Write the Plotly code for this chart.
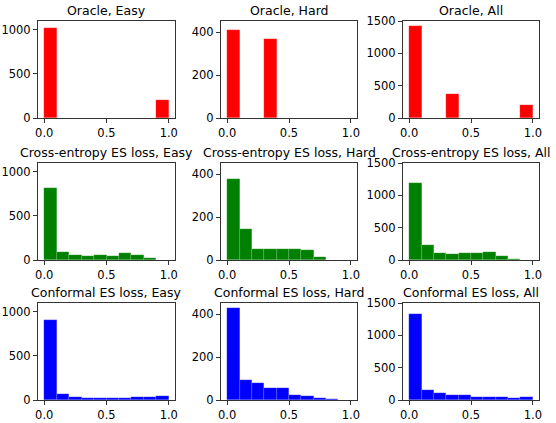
import plotly.graph_objects as go

# histogram bins (width 0.1 from 0 to 1)
bin_edges = [0.0, 0.1, 0.2, 0.3, 0.4, 0.5, 0.6, 0.7, 0.8, 0.9, 1.0]

methods = ["Oracle", "Cross-entropy ES loss", "Conformal ES loss"]
subsets = ["Easy", "Hard", "All"]
colors = ["#ff0000", "#008000", "#0000ff"]

# counts per bin
oracle_easy = [1020, 0, 0, 0, 0, 0, 0, 0, 0, 205]
oracle_hard = [410, 0, 0, 368, 0, 0, 0, 0, 0, 0]
oracle_all = [1430, 0, 0, 370, 0, 0, 0, 0, 0, 203]

ce_easy = [814, 93, 58, 40, 52, 48, 74, 52, 20, 2]
ce_hard = [376, 144, 53, 49, 50, 53, 46, 12, 0, 0]
ce_all = [1190, 237, 111, 89, 102, 101, 120, 64, 20, 2]

conf_easy = [902, 66, 36, 22, 22, 23, 26, 29, 35, 45]
conf_hard = [431, 92, 77, 57, 54, 23, 18, 11, 3, 0]
conf_all = [1333, 158, 113, 79, 76, 46, 44, 40, 38, 45]

counts = [
    [oracle_easy, oracle_hard, oracle_all],
    [ce_easy, ce_hard, ce_all],
    [conf_easy, conf_hard, conf_all],
]

y_max = [1100, 452, 1500]
y_ticks = [[0, 500, 1000], [0, 200, 400], [0, 500, 1000, 1500]]

W, H = 556, 423
col_px = [(38, 175), (221, 357), (403, 539)]
row_px = [(21, 118), (163, 260), (303, 400)]

centers = [(a + b) / 2 for a, b in zip(bin_edges[:-1], bin_edges[1:])]
widths = [b - a for a, b in zip(bin_edges[:-1], bin_edges[1:])]

fig = go.Figure()
annotations = []
axis_style = dict(
    showline=True, mirror=True, linecolor="#333333", linewidth=1,
    ticks="outside", ticklen=4, tickwidth=1, tickcolor="#333333",
    showgrid=False, zeroline=False, automargin=False,
    tickfont=dict(size=11.5, color="black"),
)

for r in range(3):
    for c in range(3):
        k = r * 3 + c + 1
        sfx = "" if k == 1 else str(k)
        fig.add_trace(go.Bar(
            x=centers, y=counts[r][c], width=widths,
            marker=dict(color=colors[r], line=dict(width=0.4, color="rgba(255,255,255,0.35)")),
            xaxis="x" + sfx, yaxis="y" + sfx, showlegend=False,
        ))
        x0, x1 = col_px[c]
        y0, y1 = row_px[r]
        fig.layout["xaxis" + sfx] = dict(
            axis_style, domain=[x0 / W, x1 / W], anchor="y" + sfx,
            range=[-0.05, 1.05], tickvals=[0, 0.5, 1], ticktext=["0.0", "0.5", "1.0"],
        )
        fig.layout["yaxis" + sfx] = dict(
            axis_style, domain=[1 - y1 / H, 1 - y0 / H], anchor="x" + sfx,
            range=[0, y_max[c]], tickvals=y_ticks[c],
        )
        annotations.append(dict(
            text=f"{methods[r]}, {subsets[c]}", showarrow=False,
            x=(x0 + x1) / 2 / W, y=1 - (y0 - 1) / H, xref="paper", yref="paper",
            xanchor="center", yanchor="bottom", font=dict(size=12.5, color="black"),
        ))

fig.update_layout(
    width=W, height=H, margin=dict(l=0, r=0, t=0, b=0),
    paper_bgcolor="white", plot_bgcolor="white",
    font=dict(family="DejaVu Sans"), bargap=0,
    annotations=annotations,
)

# drop the default page margin so the figure sits at the window corner
fig.write_html("out.html", config={"displayModeBar": False},
               post_script="document.body.style.margin='0';")
